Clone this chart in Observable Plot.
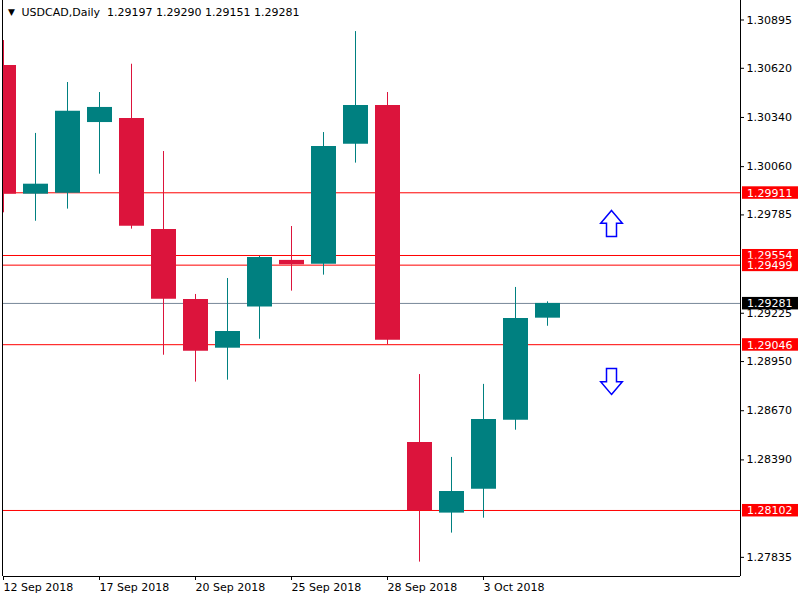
<!DOCTYPE html>
<html>
<head>
<meta charset="utf-8">
<script src="https://cdn.jsdelivr.net/npm/d3@7"></script>
<script src="https://cdn.jsdelivr.net/npm/@observablehq/plot@0.6"></script>
<style>
  html, body { margin: 0; padding: 0; background: #fff; }
  svg text { white-space: pre; }
</style>
</head>
<body>
<div id="chart"></div>
<script>
// ---- data ----
const dateLabels = ["12 Sep 2018","13 Sep 2018","14 Sep 2018","17 Sep 2018","18 Sep 2018","19 Sep 2018",
  "20 Sep 2018","21 Sep 2018","24 Sep 2018","25 Sep 2018","26 Sep 2018","27 Sep 2018",
  "28 Sep 2018","1 Oct 2018","2 Oct 2018","3 Oct 2018","4 Oct 2018","5 Oct 2018"];
const openP  = [1.30636,1.29903,1.29909,1.30311,1.30334,1.29702,1.29303,1.29026,1.29260,1.29526,1.29504,1.30188,1.30408,1.28489,1.28087,1.28223,1.28616,1.29197];
const highP  = [1.30778,1.30249,1.30539,1.30482,1.30643,1.30146,1.29332,1.29423,1.29548,1.29719,1.30254,1.30829,1.30482,1.28876,1.28404,1.28820,1.29372,1.29290];
const lowP   = [1.29797,1.29749,1.29818,1.30017,1.29704,1.28986,1.28833,1.28844,1.29077,1.29351,1.29442,1.30080,1.29047,1.27808,1.27973,1.28058,1.28559,1.29151];
const closeP = [1.29903,1.29960,1.30376,1.30397,1.29721,1.29305,1.29009,1.29121,1.29543,1.29501,1.30175,1.30408,1.29072,1.28100,1.28210,1.28620,1.29195,1.29281];

const xTickIndex = [0, 3, 6, 9, 12, 15];
const yTicks = [1.30895, 1.30620, 1.30340, 1.30060, 1.29785, 1.29225, 1.28950, 1.28670, 1.28390, 1.27835];
const levels = [1.29911, 1.29554, 1.29499, 1.29046, 1.28102];
const bidPrice = 1.29281;
const symbolName = "USDCAD,Daily";
const lastBar = "1.29197 1.29290 1.29151 1.29281";
const arrowIndex = [19, 19];
const arrowPrice = [1.29736, 1.28837];
const arrowDir = ["up", "down"];

// ---- derived tables ----
const TEAL = "#008080", CRIMSON = "#DC143C", LEVEL = "#FF0000", BID = "#778899";
const candles = openP.map((o, i) => ({
  i, open: o, high: highP[i], low: lowP[i], close: closeP[i],
  color: closeP[i] >= o ? TEAL : CRIMSON
}));
const arrows = arrowIndex.map((i, k) => ({i, price: arrowPrice[k], dir: arrowDir[k]}));

const xDomain = [0, 23.03125];
const yDomain = [1.27726, 1.31006];

function arrowSymbol(dirSign) {
  return {
    draw(ctx, size) {
      const k = Math.sqrt(size / Math.PI) / 13;
      const s = dirSign; // -1 up, 1 down
      ctx.moveTo(0, 13 * k * s);
      ctx.lineTo(10.8 * k, 0.3 * k * s);
      ctx.lineTo(5 * k, 0.3 * k * s);
      ctx.lineTo(5 * k, -13 * k * s);
      ctx.lineTo(-5 * k, -13 * k * s);
      ctx.lineTo(-5 * k, 0.3 * k * s);
      ctx.lineTo(-10.8 * k, 0.3 * k * s);
      ctx.closePath();
    }
  };
}

function valueBoxes(index, scales, values, dimensions) {
  const y = scales.y;
  const x0 = dimensions.width - dimensions.marginRight + 2;
  const g = d3.create("svg:g")
    .attr("font-family", "DejaVu Sans")
    .attr("font-size", 11)
    .attr("text-anchor", "start");
  const items = levels.map(v => ({v, fill: LEVEL})).concat([{v: bidPrice, fill: "#000"}]);
  for (const it of items) {
    const yy = y(it.v);
    g.append("rect").attr("x", x0).attr("y", yy - 6).attr("width", 56).attr("height", 12.5).attr("fill", it.fill);
    g.append("text").attr("x", x0 + 5).attr("y", yy + 0.5).attr("dy", "0.35em")
      .attr("text-anchor", "start").attr("fill", "#fff").text(it.v.toFixed(5));
  }
  return g.node();
}

const chart = Plot.plot({
  width: 800,
  height: 600,
  marginLeft: 3,
  marginRight: 60,
  marginTop: 0,
  marginBottom: 24,
  style: {fontFamily: "DejaVu Sans", fontSize: "11px", background: "#fff", color: "#000"},
  x: {type: "linear", domain: xDomain},
  y: {type: "linear", domain: yDomain},
  color: {type: "identity"},
  marks: [
    Plot.ruleY(levels, {stroke: LEVEL, strokeWidth: 1}),
    Plot.ruleY([bidPrice], {stroke: BID, strokeWidth: 1}),
    Plot.ruleX(candles, {x: "i", y1: "low", y2: "high", stroke: "color", strokeWidth: 1, clip: true}),
    Plot.ruleX(candles, {x: "i", y1: "open", y2: "close", stroke: "color", strokeWidth: 25, clip: true}),
    Plot.dot(arrows.filter(d => d.dir === "up"), {x: "i", y: "price", r: 13, symbol: arrowSymbol(-1), stroke: "#0000FF", strokeWidth: 1.5, fill: "#fff"}),
    Plot.dot(arrows.filter(d => d.dir === "down"), {x: "i", y: "price", r: 13, symbol: arrowSymbol(1), stroke: "#0000FF", strokeWidth: 1.5, fill: "#fff"}),
    Plot.ruleX([xDomain[0]], {dx: -1, stroke: "#000"}),
    Plot.ruleX([xDomain[1]], {stroke: "#000"}),
    Plot.ruleY([yDomain[0]], {stroke: "#000"}),
    Plot.axisX(xTickIndex, {tickFormat: i => dateLabels[i], tickSize: 4, tickPadding: 3, textAnchor: "start", fontSize: 11, label: null}),
    Plot.axisY(yTicks, {anchor: "right", tickSize: 3, tickPadding: 3, tickFormat: d => d.toFixed(5), fontSize: 11, label: null}),
    valueBoxes,
    Plot.text(["\u25BC"], {frameAnchor: "top-left", dx: 8, dy: 12, fontSize: 9, textAnchor: "middle", lineAnchor: "middle", fill: "#000"}),
    Plot.text([symbolName + "  " + lastBar], {frameAnchor: "top-left", dx: 18, dy: 12, fontSize: 11, textAnchor: "start", lineAnchor: "middle", fill: "#000"})
  ]
});
document.getElementById("chart").appendChild(chart);
</script>
</body>
</html>
